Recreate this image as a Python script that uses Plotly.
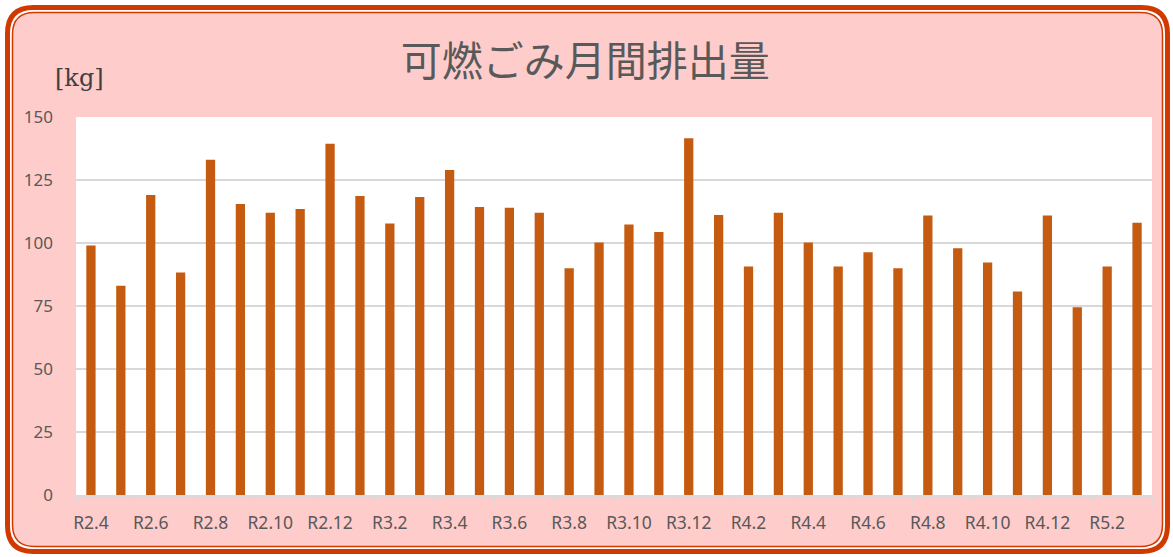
import plotly.graph_objects as go

# 月別の可燃ごみ排出量 [kg]  (R2.4 ~ R5.3)
months = (["R2.%d" % m for m in range(4, 13)]
          + ["R3.%d" % m for m in range(1, 13)]
          + ["R4.%d" % m for m in range(1, 13)]
          + ["R5.%d" % m for m in range(1, 4)])
amounts = [99, 83, 119, 88.3, 133, 115.5, 112, 113.5, 139.4, 118.7, 107.7, 118.3,
           129, 114.3, 114, 112, 90, 100.2, 107.3, 104.4, 141.6, 111.1, 90.7, 112,
           100.2, 90.7, 96.3, 90, 110.9, 97.9, 92.3, 80.8, 110.9, 74.5, 90.7, 108]
y_ticks = [0, 25, 50, 75, 100, 125, 150]

W, H = 1173, 557
ML, MR, MT, MB = 76, 21, 117, 62
PW, PH = W - ML - MR, H - MT - MB


def px(x, y):
    # pixel -> paper coords
    return (x - ML) / PW, (H - MB - y) / PH


def rounded_rect(x0, y0, x1, y1, r):
    pts = [("M", x0 + r, y0), ("L", x1 - r, y0), ("Q", x1, y0, x1, y0 + r),
           ("L", x1, y1 - r), ("Q", x1, y1, x1 - r, y1), ("L", x0 + r, y1),
           ("Q", x0, y1, x0, y1 - r), ("L", x0, y0 + r), ("Q", x0, y0, x0 + r, y0)]
    out = ""
    for p in pts:
        cmd, vals = p[0], p[1:]
        seg = []
        for i in range(0, len(vals), 2):
            a, b = px(vals[i], vals[i + 1])
            seg.append("%.5f,%.5f" % (a, b))
        out += cmd + " ".join(seg) + " "
    return out + "Z"


fig = go.Figure(go.Bar(x=months, y=amounts, marker_color="#C55A11",
                       marker_line_width=0, width=0.31))

shapes = [
    dict(type="path", path=rounded_rect(12.5, 12.5, 1162.5, 546.5, 22),
         xref="paper", yref="paper", fillcolor="#FFCCCC",
         line=dict(color="#D03A00", width=1.5), layer="below"),
    dict(type="path", path=rounded_rect(7.5, 7.5, 1167.5, 551.5, 26),
         xref="paper", yref="paper", fillcolor="rgba(0,0,0,0)",
         line=dict(color="#D03A00", width=5), layer="below"),
    dict(type="rect", x0=0, x1=1, y0=0, y1=1, xref="paper", yref="paper",
         fillcolor="white", line_width=0, layer="below"),
]

kx, ky = px(53, 78)
fig.update_layout(
    width=W, height=H,
    margin=dict(l=ML, r=MR, t=MT, b=MB),
    paper_bgcolor="white", plot_bgcolor="white",
    shapes=shapes,
    showlegend=False,
    title=dict(text="可燃ごみ月間排出量", x=0.499, xanchor="center", y=1 - 62 / H, yanchor="middle",
               font=dict(family="Noto Sans CJK JP", size=41, color="#595959")),
    annotations=[dict(text="[kg]", xref="paper", yref="paper", x=kx, y=ky,
                      xanchor="left", yanchor="middle", showarrow=False,
                      font=dict(family="DejaVu Serif", size=24, color="#404040"))],
    font=dict(family="Noto Sans", size=16, color="#595959"),
)
fig.update_xaxes(type="category", tickmode="linear", tick0=0, dtick=2, tickangle=0,
                 tickson="boundaries", ticks="outside", ticklen=6, tickcolor="#D9D9D9",
                 showline=True, linecolor="#D9D9D9", linewidth=1.5,
                 showgrid=False, tickfont=dict(size=17.5, color="#595959"),
                 ticklabelstandoff=11, range=[-0.5, len(months) - 0.5])
fig.update_yaxes(range=[0, 150], tickvals=y_ticks, showgrid=True,
                 gridcolor="#D9D9D9", gridwidth=1.5, zeroline=False,
                 ticks="", ticklabelstandoff=22, tickfont=dict(size=17, color="#595959"))

fig.write_html("out.html", config={"displayModeBar": False},
               post_script="document.body.style.margin='0';")
